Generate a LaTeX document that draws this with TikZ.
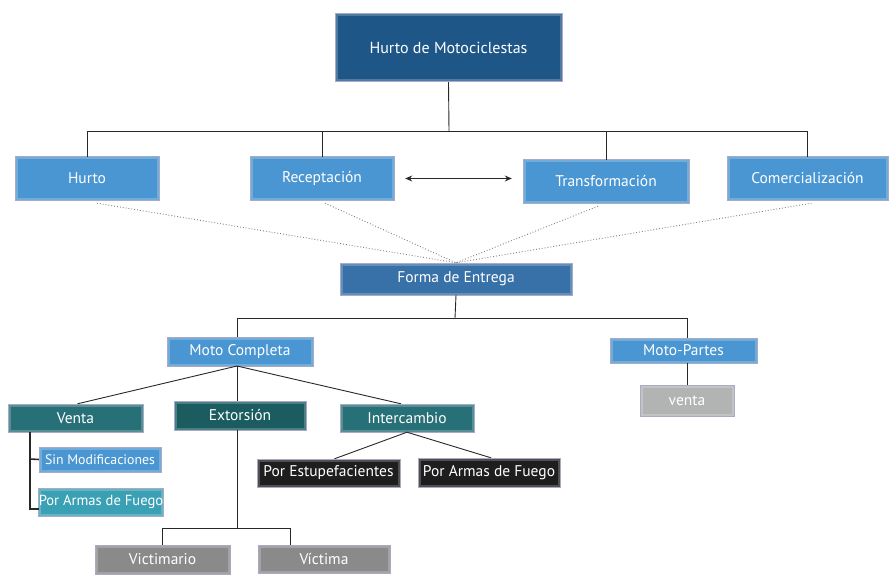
\documentclass[tikz,border=0pt]{standalone}
\usepackage{fontspec}
\setmainfont{PT Sans}
\usetikzlibrary{arrows.meta}
\definecolor{cnavy}{RGB}{30,86,136}
\definecolor{cforma}{RGB}{56,112,168}
\definecolor{clight}{RGB}{74,150,210}
\definecolor{cteal}{RGB}{40,112,120}
\definecolor{cdteal}{RGB}{26,92,96}
\definecolor{ccyan}{RGB}{58,160,180}
\definecolor{cblack}{RGB}{30,30,30}
\definecolor{cgray}{RGB}{138,138,138}
\definecolor{clgray}{RGB}{178,180,180}
\definecolor{cedge}{RGB}{168,170,200}
\definecolor{cline}{RGB}{40,40,40}
\tikzset{
  box/.style={rectangle, inner sep=0pt, text=white, font=\fontsize{15.5}{18}\selectfont,
    postaction={draw=white, draw opacity=0.22, line width=5pt},
    postaction={draw=cedge, line width=1pt}},
  conn/.style={draw=cline, line width=0.9pt},
  dots/.style={draw=gray, line width=0.9pt, dotted},
}
\begin{document}
\begin{tikzpicture}[x=1pt,y=-1pt]
\useasboundingbox (0,0) rectangle (889,575);
% top
\node[box, fill=cnavy, minimum width=227pt, minimum height=68pt, font=\fontsize{16}{18}\selectfont] (top) at (448.5,48) {Hurto de Motociclestas};
% level 1
\node[box, fill=clight, minimum width=144pt, minimum height=43pt] (hurto) at (87,178.5) {Hurto};
\node[box, fill=clight, minimum width=144pt, minimum height=43pt] (recep) at (322,178.5) {Receptación};
\node[box, fill=clight, minimum width=166pt, minimum height=43pt] (trans) at (606,181.5) {Transformación};
\node[box, fill=clight, minimum width=161pt, minimum height=43pt] (comer) at (807.5,178.5) {Comercialización};
% forma
\node[box, fill=cforma, minimum width=232pt, minimum height=32pt] (forma) at (456,279) {Forma de Entrega};
% level 3
\node[box, fill=clight, minimum width=146pt, minimum height=29pt] (mc) at (240,351.5) {Moto Completa};
\node[box, fill=clight, minimum width=147pt, minimum height=25pt] (mp) at (683.5,350.5) {Moto-Partes};
\node[box, fill=clgray, minimum width=94pt, minimum height=31pt] (venta2) at (687,400.5) {venta};
% level 4
\node[box, fill=cteal, minimum width=135pt, minimum height=28pt] (venta) at (75.5,418) {Venta};
\node[box, fill=cdteal, minimum width=132pt, minimum height=29pt] (ext) at (240,415.5) {Extorsión};
\node[box, fill=cteal, minimum width=134pt, minimum height=28pt] (inter) at (407,418) {Intercambio};
% level 5
\node[box, fill=clight, minimum width=122pt, minimum height=25pt, font=\fontsize{13.8}{16}\selectfont] (sin) at (100,459.5) {Sin Modificaciones};
\node[box, fill=ccyan, minimum width=124pt, minimum height=28pt, font=\fontsize{14.6}{17}\selectfont] (pa1) at (101,502) {Por Armas de Fuego};
\node[box, fill=cblack, minimum width=143pt, minimum height=28pt] (pe) at (328.5,473) {Por Estupefacientes};
\node[box, fill=cblack, minimum width=142pt, minimum height=29pt] (pa2) at (489,472.5) {Por Armas de Fuego};
\node[box, fill=cgray, minimum width=135pt, minimum height=29pt] (vmario) at (162.5,559.5) {Victimario};
\node[box, fill=cgray, minimum width=132pt, minimum height=28pt] (vict) at (324,559) {Víctima};
% coordinates
\coordinate (j1) at (449,131);
\coordinate (j2) at (455,318);
\coordinate (j3) at (237,528);
% connectors level 1
\draw[conn] (top.south) -- (j1);
\draw[conn] (hurto.north) -- (hurto.north |- j1) -- (comer.north |- j1) -- (comer.north);
\draw[conn] (recep.north) -- (recep.north |- j1);
\draw[conn] (trans.north) -- (trans.north |- j1);
\draw[conn, {Stealth[length=7pt,width=6pt]}-{Stealth[length=7pt,width=6pt]}] ([xshift=11pt]recep.east) -- ([xshift=-11pt]trans.west |- recep.east);
% dotted
\draw[dots] ([xshift=10pt,yshift=-3pt]hurto.south) -- (forma.north);
\draw[dots] ([xshift=3pt,yshift=-3pt]recep.south) -- (forma.north);
\draw[dots] ([xshift=-8pt,yshift=-3pt]trans.south) -- (forma.north);
\draw[dots] ([xshift=4pt,yshift=-3pt]comer.south) -- (forma.north);
% forma connectors
\draw[conn] (forma.south) -- (j2);
\draw[conn] (mc.north -| 237,0) -- (237,318) -- (687,318) -- (mp.north -| 687,0);
\draw[conn] (mp.south -| 687,0) -- (venta2.north);
% moto completa
\draw[conn] (237,366) -- ([xshift=2pt]venta.north);
\draw[conn] (237,366) -- (ext.north -| 237,0);
\draw[conn] (237,366) -- ([xshift=-6pt]inter.north);
\draw[conn] (ext.south -| 237,0) -- (j3);
\draw[conn] (vmario.north) -- (vmario.north |- j3) -- (290,528) -- (vict.north -| 290,0);
% intercambio
\draw[conn] (inter.south) -- ([xshift=6pt]pe.north);
\draw[conn] (inter.south) -- ([xshift=2pt]pa2.north);
% venta bracket
\draw[draw=cline, line width=1.6pt] (30,432) -- (30,509) -- (pa1.west |- 0,509);
\draw[draw=cline, line width=1.6pt] (30,459) -- (sin.west);
\end{tikzpicture}
\end{document}
